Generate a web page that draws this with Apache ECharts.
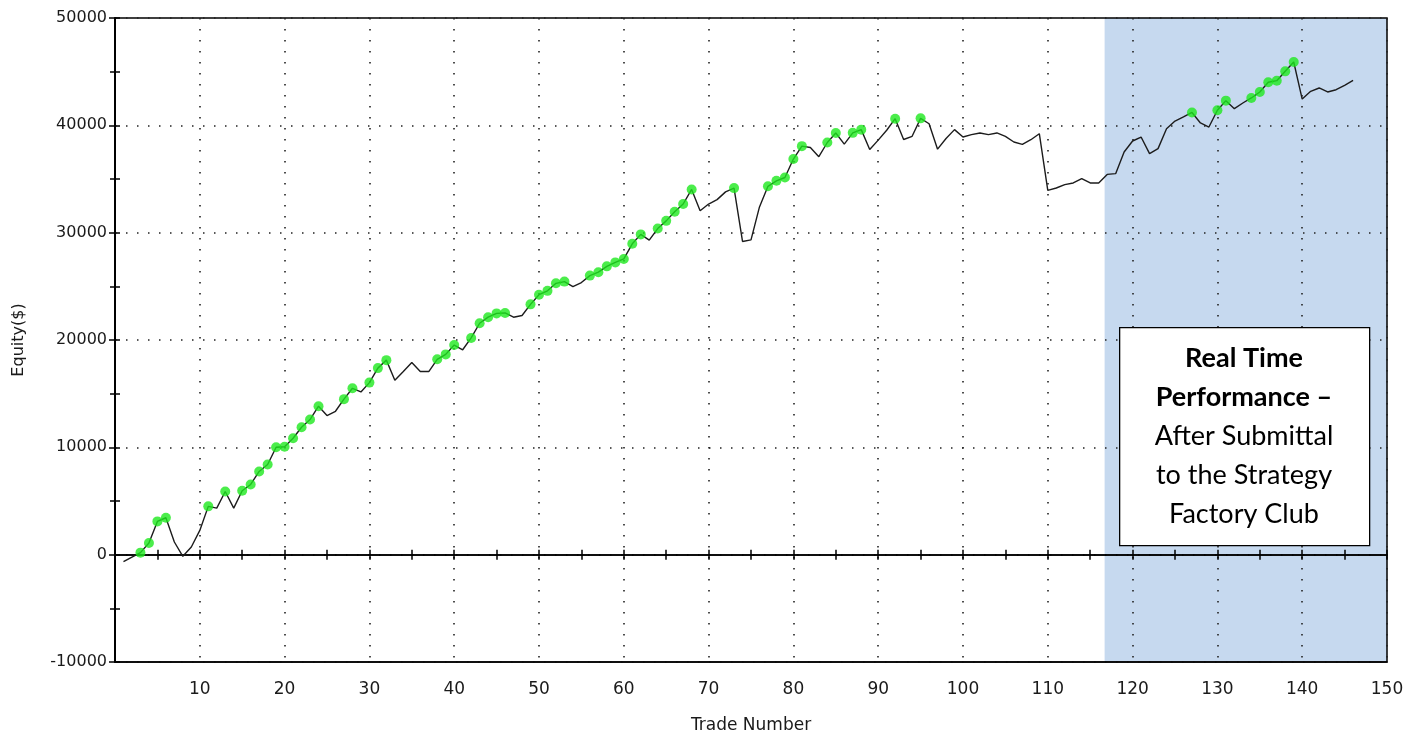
<!DOCTYPE html>
<html>
<head>
<meta charset="utf-8">
<script src="https://cdn.jsdelivr.net/npm/echarts@6/dist/echarts.min.js"></script>
<style>
html,body{margin:0;padding:0;background:#ffffff;}
#chart{width:1421px;height:740px;}
</style>
</head>
<body>
<div id="chart"></div>
<script>
// Equity after each trade (trade 1 .. 146)
const equity = [
  -650, -220, 190, 1085, 3100, 3440, 1180, -155, 710, 2260,
  4500, 4340, 5890, 4340, 5950, 6540, 7750, 8400, 10010, 10060,
  10850, 11870, 12590, 13830, 12960, 13360, 14490, 15500, 15160, 16030,
  17380, 18125, 16250, 17060, 17900, 17060, 17060, 18200, 18660, 19530,
  19090, 20190, 21560, 22125, 22480, 22520, 22125, 22280, 23320, 24220,
  24580, 25280, 25440, 24970, 25350, 26000, 26320, 26860, 27230, 27550,
  28960, 29840, 29310, 30380, 31100, 31950, 32670, 34030, 32040, 32670,
  33080, 33800, 34150, 29180, 29330, 32400, 34320, 34830, 35140, 36860,
  38060, 37940, 37080, 38400, 39290, 38250, 39300, 39600, 37750, 38620,
  39540, 40620, 38680, 38980, 40650, 40150, 37780, 38770, 39600, 38910,
  39130, 39290, 39130, 39290, 38970, 38450, 38230, 38660, 39220, 33940,
  34160, 34470, 34630, 35030, 34630, 34630, 35430, 35500, 37520, 38540,
  38910, 37360, 37830, 39690, 40400, 40780, 41200, 40220, 39840, 41400,
  42300, 41550, 42080, 42550, 43110, 44010, 44160, 45030, 45900, 42450,
  43170, 43480, 43110, 43320, 43730, 44190
];
// Trades that set a new equity high (green markers)
const newHighTrades = [
  3, 4, 5, 6, 11, 13, 15, 16, 17, 18, 19, 20, 21, 22, 23, 24, 27, 28, 30, 31, 32,
  38, 39, 40, 42, 43, 44, 45, 46, 49, 50, 51, 52, 53, 56, 57, 58, 59, 60, 61, 62,
  64, 65, 66, 67, 68, 73, 77, 78, 79, 80, 81, 84, 85, 87, 88, 92, 95,
  127, 130, 131, 134, 135, 136, 137, 138, 139
];
// Real-time (out-of-sample) region on the trade axis
const realTimeStart = 116.7;
const realTimeEnd = 150;
const yMin = -10000;
const yMax = 50000;
const annotationLines = ['Real Time', 'Performance \u2013', 'After Submittal', 'to the Strategy', 'Factory Club'];

const lineData = equity.map((v, i) => [i + 1, v]);
const dotData = newHighTrades.map(t => [t, equity[t - 1]]);
const shadeData = [[realTimeStart, yMax], [realTimeEnd, yMax]];

const dotted = { type: [1.5, 9.5], color: '#222', width: 1.6 };
const labelFont = 'DejaVu Sans';

const chart = echarts.init(document.getElementById('chart'), null, { renderer: 'canvas' });
chart.setOption({
  animation: false,
  backgroundColor: '#ffffff',
  grid: { left: 115, right: 34, top: 18, bottom: 78, show: true, borderColor: '#000', borderWidth: 1.5, backgroundColor: 'transparent' },
  xAxis: [
    {
      type: 'value', min: 0, max: 150, interval: 10, position: 'bottom',
      axisLine: { onZero: false, lineStyle: { color: '#000', width: 1.5 } },
      axisTick: { show: false },
      axisLabel: { showMinLabel: false, margin: 19, fontSize: 17, color: '#1a1a1a', fontFamily: labelFont },
      splitLine: { show: true, lineStyle: dotted },
      name: 'Trade Number', nameLocation: 'middle', nameGap: 55,
      nameTextStyle: { fontSize: 17, color: '#1a1a1a', fontFamily: labelFont }
    },
    {
      type: 'value', min: 0, max: 150, interval: 5, position: 'bottom',
      axisLine: { onZero: true, onZeroAxisIndex: 0, lineStyle: { color: '#000', width: 1.5 } },
      axisTick: { show: true, inside: false, length: 5, lineStyle: { color: '#000', width: 1.5 } },
      axisLabel: { show: false }, splitLine: { show: false }
    },
    {
      type: 'value', min: 0, max: 150, interval: 5, position: 'bottom',
      axisLine: { onZero: true, onZeroAxisIndex: 0, lineStyle: { color: '#000', width: 1.5 } },
      axisTick: { show: true, inside: true, length: 5, lineStyle: { color: '#000', width: 1.5 } },
      axisLabel: { show: false }, splitLine: { show: false }
    }
  ],
  yAxis: [
    {
      type: 'value', min: yMin, max: yMax, interval: 10000, position: 'left',
      axisLine: { onZero: false, lineStyle: { color: '#000', width: 2 } },
      axisTick: { show: true, inside: false, length: 6, lineStyle: { color: '#000', width: 1.5 } },
      minorTick: { show: true, splitNumber: 2, length: 5, lineStyle: { color: '#000', width: 1.5 } },
      axisLabel: { margin: 8, fontSize: 16, color: '#1a1a1a', fontFamily: labelFont, formatter: v => String(v) },
      splitLine: { show: true, lineStyle: dotted },
      name: 'Equity($)', nameLocation: 'middle', nameGap: 88, nameRotate: 90,
      nameTextStyle: { fontSize: 16, color: '#1a1a1a', fontFamily: labelFont }
    },
    {
      type: 'value', min: yMin, max: yMax, interval: 5000, position: 'left',
      axisLine: { show: false, onZero: false },
      axisTick: { show: true, inside: true, length: 5, lineStyle: { color: '#000', width: 1.5 } },
      axisLabel: { show: false }, splitLine: { show: false }
    }
  ],
  series: [
    {
      type: 'line', data: shadeData, z: -1, silent: true, symbol: 'none', showSymbol: false,
      lineStyle: { width: 0, opacity: 0 },
      areaStyle: { color: '#c6d9ef', opacity: 1, origin: 'start' }
    },
    {
      type: 'line', data: lineData, showSymbol: false, symbol: 'none',
      lineStyle: { color: '#1c1c1c', width: 1.4 }, z: 3
    },
    {
      type: 'scatter', data: dotData, symbol: 'circle', symbolSize: 10,
      itemStyle: { color: '#1ee81e' }, z: 4
    }
  ],
  graphic: [
    {
      type: 'rect', left: 1119, top: 327, z: 100,
      shape: { x: 0, y: 0, width: 250, height: 218 },
      style: { fill: '#ffffff', stroke: '#000', lineWidth: 1.3 }
    },
    {
      type: 'text', x: 1244, y: 436, z: 101,
      style: {
        text: annotationLines.map((t, i) => (i < 2 ? '{b|' : '{n|') + t + '}').join('\n'),
        align: 'center', verticalAlign: 'middle',
        rich: {
          b: { fontFamily: 'Lato', fontWeight: 'bold', fontSize: 27, lineHeight: 39, fill: '#000', align: 'center' },
          n: { fontFamily: 'Lato', fontSize: 27, lineHeight: 39, fill: '#000', align: 'center' }
        }
      }
    }
  ]
});
</script>
</body>
</html>
